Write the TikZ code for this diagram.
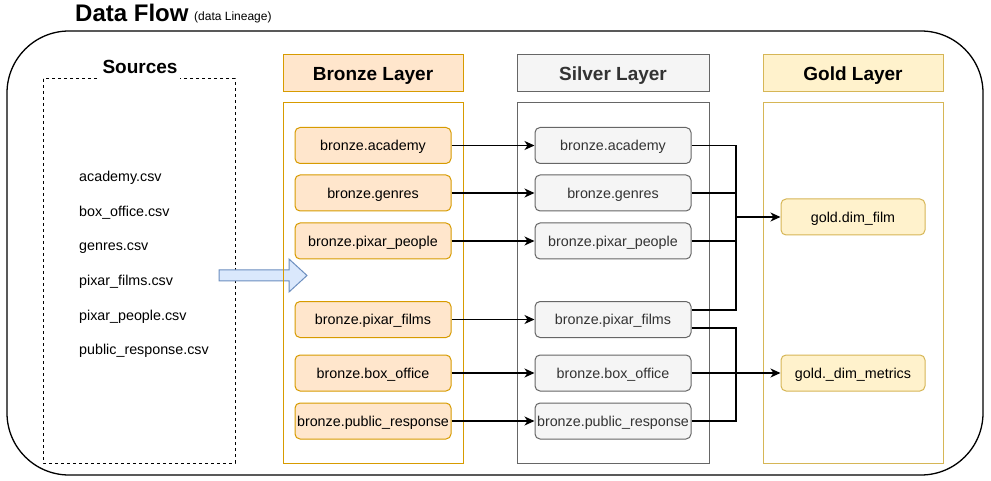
\documentclass[tikz,border=0pt]{standalone}
\usepackage{fontspec}
\setmainfont{Liberation Sans}
\usetikzlibrary{arrows.meta}
\definecolor{bronzefill}{HTML}{FFE6CC}
\definecolor{bronzeline}{HTML}{D79B00}
\definecolor{silverfill}{HTML}{F5F5F5}
\definecolor{silverline}{HTML}{666666}
\definecolor{silvertext}{HTML}{333333}
\definecolor{goldfill}{HTML}{FFF2CC}
\definecolor{goldline}{HTML}{D6B656}
\definecolor{bluefill}{HTML}{DAE8FC}
\definecolor{blueline}{HTML}{6C8EBF}
\tikzset{
  itemtext/.style={font=\fontsize{14.3}{16}\selectfont, text height=10.3pt, text depth=0pt, inner sep=0pt},
  tbl/.style={itemtext, rounded corners=5pt, minimum height=36, line width=1pt},
  bronzebox/.style={tbl, fill=bronzefill, draw=bronzeline, minimum width=156},
  silverbox/.style={tbl, fill=silverfill, draw=silverline, text=silvertext, minimum width=156},
  goldbox/.style={tbl, fill=goldfill, draw=goldline, minimum width=144},
  header/.style={font=\fontsize{19}{22}\bfseries\selectfont, text height=13.6pt, text depth=0pt, inner sep=0pt, minimum height=37, line width=1pt},
  csv/.style={font=\fontsize{14.3}{16}\selectfont, anchor=base west, inner sep=0pt},
  flow/.style={line width=1.3pt, -{Stealth[length=10pt,width=9pt,inset=3pt]}},
  link/.style={line width=1.3pt},
}
\begin{document}
\begin{tikzpicture}[x=1pt,y=-1pt]
\useasboundingbox (0,0) rectangle (991,481);
% title
\node[font=\fontsize{24}{28}\bfseries\selectfont, anchor=base west, inner sep=0pt] (title) at (75,22) {Data Flow};
\node[font=\fontsize{12}{14}\selectfont, anchor=base west, inner sep=0pt] (subtitle) at (194,21) {(data Lineage)};
% outer frame
\draw[line width=1.3pt, rounded corners=62pt] (7,31) rectangle (983,475);
% sources
\draw[line width=1pt, dash pattern=on 3pt off 3pt] (43,79) rectangle (235,463);
\node[font=\fontsize{19}{22}\bfseries\selectfont, anchor=base, fill=white, inner xsep=3pt, inner ysep=6pt] (sources) at (140,74) {Sources};
\node[csv] (c1) at (79,182) {academy.csv};
\node[csv] (c2) at (79,217) {box\_office.csv};
\node[csv] (c3) at (79,251) {genres.csv};
\node[csv] (c4) at (79,286) {pixar\_films.csv};
\node[csv] (c5) at (79,320) {pixar\_people.csv};
\node[csv] (c6) at (79,354.5) {public\_response.csv};
% block arrow
\draw[fill=bluefill, draw=blueline, line width=1pt] (219,270) -- (289,270) -- (289,259) -- (307,275.5) -- (289,292) -- (289,281) -- (219,281) -- cycle;
% headers
\node[header, fill=bronzefill, draw=bronzeline, minimum width=180] (hb) at (373,73.5) {Bronze Layer};
\node[header, fill=silverfill, draw=silverline, text=silvertext, minimum width=192] (hs) at (613,73.5) {Silver Layer};
\node[header, fill=goldfill, draw=goldline, minimum width=180] (hg) at (853,73.5) {Gold Layer};
% containers
\draw[draw=bronzeline, line width=1pt] (283,103) rectangle (463,463);
\draw[draw=silverline, line width=1pt] (517,103) rectangle (709,463);
\draw[draw=goldline, line width=1pt] (763,103) rectangle (943,463);
% bronze
\node[bronzebox] (b1) at (373,145.5) {bronze.academy};
\node[bronzebox] (b2) at (373,193) {bronze.genres};
\node[bronzebox] (b3) at (373,241) {bronze.pixar\_people};
\node[bronzebox] (b4) at (373,319.5) {bronze.pixar\_films};
\node[bronzebox] (b5) at (373,373) {bronze.box\_office};
\node[bronzebox] (b6) at (373,421) {bronze.public\_response};
% silver
\node[silverbox] (s1) at (613,145.5) {bronze.academy};
\node[silverbox] (s2) at (613,193) {bronze.genres};
\node[silverbox] (s3) at (613,241) {bronze.pixar\_people};
\node[silverbox] (s4) at (613,319.5) {bronze.pixar\_films};
\node[silverbox] (s5) at (613,373) {bronze.box\_office};
\node[silverbox] (s6) at (613,421) {bronze.public\_response};
% gold
\node[goldbox] (g1) at (853,217) {gold.dim\_film};
\node[goldbox] (g2) at (853,373) {gold.\_dim\_metrics};
% bronze -> silver
\foreach \i in {1,...,6} \draw[flow] (b\i) -- (s\i);
% silver -> gold
\coordinate (bus1) at (736,217);
\coordinate (bus2) at (736,373);
\draw[link] (s1.east) -| (bus1);
\draw[link] (s2.east) -| (bus1);
\draw[link] (s3.east) -| (bus1);
\draw[link] ([yshift=9.5pt]s4.east) -| (bus1);
\draw[flow] (bus1) -- (g1.west);
\draw[link] ([yshift=-8.5pt]s4.east) -| (bus2);
\draw[link] (s6.east) -| (bus2);
\draw[flow] (s5.east) -- (g2.west);
\end{tikzpicture}
\end{document}
